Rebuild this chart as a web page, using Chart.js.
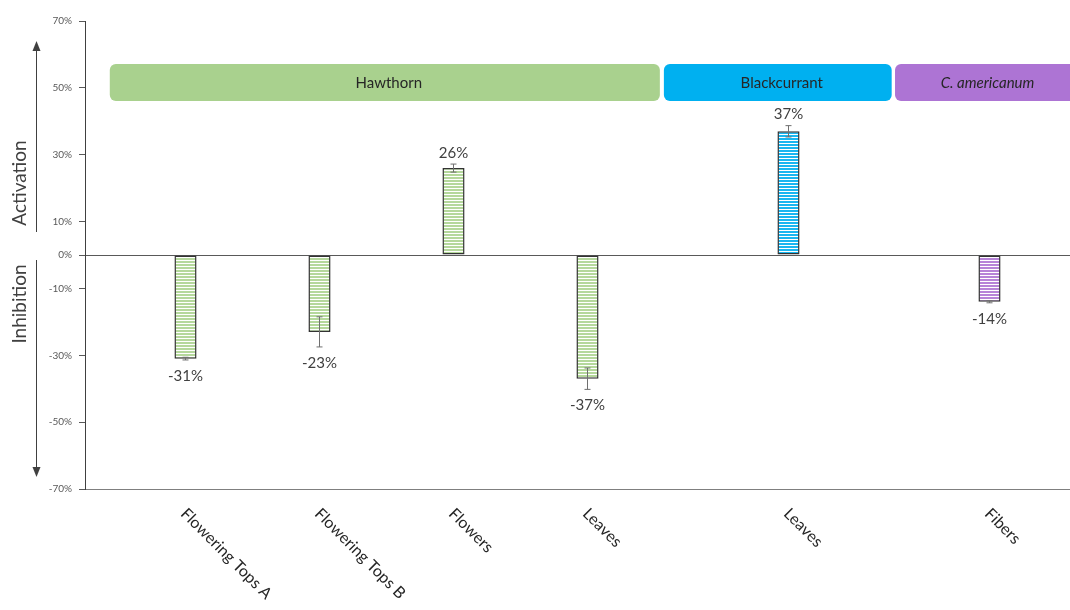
<!DOCTYPE html>
<html><head><meta charset="utf-8">
<script src="https://cdn.jsdelivr.net/npm/chart.js@4"></script>
<style>
html,body{margin:0;padding:0;background:#fff;overflow:hidden;width:1070px;height:610px}
#wrap{position:relative;width:1090px;height:610px}
</style></head>
<body><div id="wrap"><canvas id="c" width="1090" height="610"></canvas></div>
<script>
// ---- data ----
const categories = ['', 'Flowering Tops A', '', 'Flowering Tops B', '', 'Flowers', '', 'Leaves', '', '', 'Leaves', '', '', 'Fibers', ''];
const values     = [null, -31, null, -23, null, 26, null, -37, null, null, 37, null, null, -14, null];
const errors     = [null, 0.4, null, 4.5, null, 1.2, null, 3.2, null, null, 1.7, null, null, 0.3, null];
const plantOf    = ['', 'Hawthorn', '', 'Hawthorn', '', 'Hawthorn', '', 'Hawthorn', '', '', 'Blackcurrant', '', '', 'C. americanum', ''];
const groups     = ['Hawthorn', 'Blackcurrant', 'C. americanum'];
const yTicks     = [70, 50, 30, 10, 0, -10, -30, -50, -70];

// ---- styling / layout ----
const groupColors = { 'Hawthorn': '#a9d18e', 'Blackcurrant': '#00b0f0', 'C. americanum': '#ad74d4' };
const stripeColors = { 'Hawthorn': '#b5d89c', 'Blackcurrant': '#19b6f0', 'C. americanum': '#b783d8' };
const groupItalic = { 'Hawthorn': false, 'Blackcurrant': false, 'C. americanum': true };
// header spans in category-index units
const groupSpans  = { 'Hawthorn': [-0.13, 8.08], 'Blackcurrant': [8.14, 11.54], 'C. americanum': [11.59, 15] };
const FONT = "Lato, 'Open Sans', sans-serif";

function stripe(color) {
  const c = document.createElement('canvas');
  c.width = 4; c.height = 3;
  const g = c.getContext('2d');
  g.fillStyle = '#ffffff'; g.fillRect(0, 0, 4, 3);
  g.fillStyle = color; g.fillRect(0, 0, 4, 2);
  return g.createPattern(c, 'repeat');
}
const patterns = {};
groups.forEach(gp => patterns[gp] = stripe(stripeColors[gp]));

const decor = {
  id: 'decor',
  afterDatasetsDraw(chart) {
    const ctx = chart.ctx, xs = chart.scales.x, ys = chart.scales.y;
    const slot = (xs.right - xs.left) / categories.length;
    const idxPx = v => xs.left + (v + 0.5) * slot;
    ctx.save();
    // group headers
    groups.forEach(gp => {
      const [a, b] = groupSpans[gp];
      const x0 = idxPx(a), x1 = idxPx(b), y0 = 64, h = 37;
      ctx.fillStyle = groupColors[gp];
      ctx.beginPath();
      ctx.roundRect(x0, y0, x1 - x0, h, 6);
      ctx.fill();
      ctx.fillStyle = '#262626';
      ctx.font = (groupItalic[gp] ? 'italic ' : '') + '15px ' + FONT;
      ctx.textAlign = 'center'; ctx.textBaseline = 'middle';
      const tx = Math.min((x0 + x1) / 2 + 4, (x0 + 1080) / 2);
      ctx.fillText(gp, tx, y0 + h / 2 + 1);
    });
    // error bars + value labels
    const meta = chart.getDatasetMeta(0);
    values.forEach((v, i) => {
      if (v === null) return;
      const x = meta.data[i].x;
      const e = errors[i] || 0;
      const yHi = ys.getPixelForValue(v + e), yLo = ys.getPixelForValue(v - e);
      ctx.strokeStyle = '#6f6f6f'; ctx.lineWidth = 1;
      ctx.beginPath();
      ctx.moveTo(x, yHi); ctx.lineTo(x, yLo);
      ctx.moveTo(x - 3, yHi); ctx.lineTo(x + 3, yHi);
      ctx.moveTo(x - 3, yLo); ctx.lineTo(x + 3, yLo);
      ctx.stroke();
      ctx.fillStyle = '#404040';
      ctx.font = '15px ' + FONT;
      ctx.textAlign = 'center'; ctx.textBaseline = 'middle';
      const ly = v >= 0 ? ys.getPixelForValue(v + e) - 11 : ys.getPixelForValue(v - e) + 16;
      ctx.fillText(Math.round(v) + '%', x, ly);
    });
    // x category labels rotated
    ctx.fillStyle = '#262626';
    ctx.font = '16px ' + FONT;
    ctx.textAlign = 'left'; ctx.textBaseline = 'middle';
    categories.forEach((c, i) => {
      if (!c) return;
      const x = xs.getPixelForValue(i);
      ctx.save();
      ctx.translate(x - 2, xs.top + 22);
      ctx.rotate(Math.PI / 4);
      ctx.fillText(c, 0, 0);
      ctx.restore();
    });
    // axis titles with arrows
    ctx.strokeStyle = '#404040'; ctx.fillStyle = '#404040'; ctx.lineWidth = 1;
    const ax = 36.5;
    ctx.beginPath(); ctx.moveTo(ax, 48); ctx.lineTo(ax, 232); ctx.stroke();
    ctx.beginPath(); ctx.moveTo(ax, 41); ctx.lineTo(ax - 4, 51); ctx.lineTo(ax + 4, 51); ctx.closePath(); ctx.fill();
    ctx.beginPath(); ctx.moveTo(ax, 260); ctx.lineTo(ax, 470); ctx.stroke();
    ctx.beginPath(); ctx.moveTo(ax, 477); ctx.lineTo(ax - 4, 467); ctx.lineTo(ax + 4, 467); ctx.closePath(); ctx.fill();
    ctx.font = '19px ' + FONT;
    ctx.textAlign = 'center'; ctx.textBaseline = 'middle';
    ctx.save(); ctx.translate(20, 183); ctx.rotate(-Math.PI / 2); ctx.fillText('Activation', 0, 0); ctx.restore();
    ctx.save(); ctx.translate(20, 304); ctx.rotate(-Math.PI / 2); ctx.fillText('Inhibition', 0, 0); ctx.restore();
    ctx.restore();
  }
};

new Chart(document.getElementById('c'), {
  type: 'bar',
  data: {
    labels: categories,
    datasets: [{
      data: values,
      backgroundColor: plantOf.map(p => p ? patterns[p] : 'transparent'),
      borderColor: '#333333',
      borderWidth: 1.5,
      borderSkipped: false,
      barPercentage: 0.33,
      categoryPercentage: 1
    }]
  },
  options: {
    responsive: false,
    devicePixelRatio: 1,
    animation: false,
    layout: { padding: { top: 21, left: 0, right: 0, bottom: 0 } },
    plugins: { legend: { display: false }, tooltip: { enabled: false } },
    scales: {
      x: {
        ticks: { display: false },
        grid: { display: false },
        border: { display: true, color: '#7f7f7f' },
        afterFit: s => { s.height = 121; }
      },
      y: {
        min: -70, max: 70,
        afterBuildTicks: s => { s.ticks = yTicks.map(v => ({ value: v })); },
        afterFit: s => { s.width = 85; },
        ticks: {
          callback: v => v + '%',
          font: { family: FONT, size: 10 },
          color: '#595959',
          padding: 7,
          autoSkip: false
        },
        grid: {
          drawOnChartArea: true,
          color: c => (c.tick && c.tick.value === 0) ? '#595959' : 'rgba(0,0,0,0)',
          tickColor: '#595959',
          tickLength: 6
        },
        border: { display: true, color: '#404040' }
      }
    }
  },
  plugins: [decor]
});
</script>
</body></html>
